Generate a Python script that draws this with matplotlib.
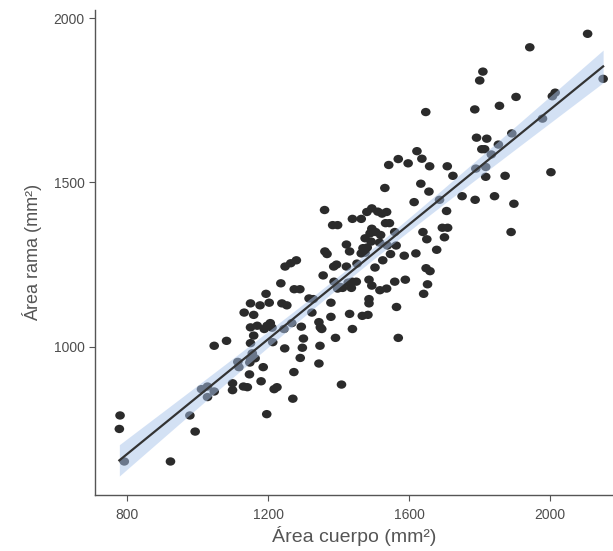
import numpy as np
import matplotlib
matplotlib.use("Agg")
import matplotlib.pyplot as plt
from matplotlib.path import Path

area_cuerpo = [780, 778, 792, 923, 978, 993, 1011, 1028, 1028, 1047, 1047, 1082, 1099, 1099,
               1114, 1117, 1130, 1141, 1147, 1148, 1150, 1163, 1150, 1150, 1159, 1159, 1132,
               1150, 1177, 1194, 1203, 1189, 1206, 1213, 1186, 1180, 1196, 1217, 1225, 1270,
               1273, 1247, 1245, 1267, 1294, 1300, 1297, 1291, 1239, 1253, 1236, 1248, 1264,
               1280, 1274, 1290, 1324, 1328, 1316, 1344, 1348, 1352, 1347, 1344, 1391, 1378,
               1378, 1408, 1356, 1360, 1383, 1397, 1361, 1367, 1386, 1394, 1387, 1397, 1411,
               1422, 1422, 1431, 1436, 1438, 1450, 1431, 1439, 1467, 1483, 1486, 1486, 1494,
               1486, 1503, 1439, 1464, 1480, 1494, 1511, 1536, 1494, 1505, 1519, 1492, 1516,
               1469, 1475, 1464, 1531, 1542, 1569, 1597, 1622, 1636, 1658, 1633, 1656, 1614,
               1533, 1544, 1559, 1563, 1547, 1525, 1586, 1619, 1639, 1650, 1648, 1659, 1652,
               1641, 1589, 1559, 1536, 1517, 1564, 1569, 1678, 1686, 1700, 1694, 1709, 1706,
               1708, 1724, 1750, 1647, 1787, 1789, 1817, 1817, 1806, 1814, 1791, 1820, 1833,
               1853, 1842, 1872, 1897, 1889, 1891, 1903, 1856, 1786, 1800, 1809, 1942, 1978,
               2006, 2014, 2002, 2106, 2150,
               1489, 1452, 1404, 1427, 1211, 1197, 1523, 1475, 1538, 1155, 1169, 1481]
area_rama = [791, 750, 651, 651, 791, 742, 871, 879, 847, 864, 1003, 1018, 889, 868,
             954, 938, 879, 877, 916, 952, 962, 965, 1011, 1059, 1034, 1097, 1104,
             1132, 1126, 1161, 1134, 1054, 1072, 1014, 938, 895, 795, 871, 877, 842,
             923, 995, 1054, 1072, 1061, 1025, 997, 966, 1132, 1126, 1193, 1244, 1254,
             1263, 1175, 1175, 1104, 1145, 1147, 1075, 1059, 1054, 1003, 949, 1027, 1091,
             1134, 885, 1217, 1416, 1370, 1370, 1290, 1282, 1244, 1250, 1198, 1177, 1179,
             1244, 1311, 1290, 1179, 1198, 1198, 1100, 1054, 1094, 1097, 1145, 1132, 1186,
             1204, 1241, 1389, 1389, 1410, 1421, 1411, 1410, 1359, 1349, 1340, 1320, 1317,
             1300, 1286, 1284, 1483, 1553, 1571, 1558, 1595, 1572, 1549, 1496, 1472, 1440,
             1376, 1376, 1349, 1308, 1282, 1263, 1277, 1284, 1349, 1327, 1239, 1230, 1190,
             1161, 1204, 1198, 1177, 1172, 1121, 1027, 1295, 1447, 1333, 1362, 1362, 1413,
             1549, 1520, 1458, 1714, 1447, 1542, 1547, 1517, 1601, 1601, 1636, 1633, 1585,
             1615, 1458, 1520, 1435, 1349, 1649, 1760, 1733, 1722, 1810, 1837, 1911, 1694,
             1762, 1773, 1531, 1952, 1815,
             1345, 1253, 1182, 1195, 1058, 1064, 1405, 1330, 1308, 980, 1064, 1302]

x_ticks = [800, 1200, 1600, 2000]
y_ticks = [1000, 1500, 2000]

plt.rcParams['font.family'] = ['Liberation Sans', 'DejaVu Sans']

x = np.array(area_cuerpo, dtype=float)
y = np.array(area_rama, dtype=float)

fig = plt.figure(figsize=(6.13, 5.51), dpi=100)
ax = fig.add_axes([0.155, 0.1016, 0.845, 0.88])

# slightly wide ellipse marker (reference is horizontally stretched)
circ = Path.unit_circle()
ell = Path(circ.vertices * np.array([1.15, 1.0]), circ.codes)

ax.scatter(x, y, s=48, marker=ell, color='#2b2b2b', edgecolors='none', zorder=2)

# linear fit with 95% confidence band
b, a = np.polyfit(x, y, 1)
xs = np.linspace(x.min(), x.max(), 200)
ys = a + b * xs
n = len(x)
resid = y - (a + b * x)
mse = np.sum(resid ** 2) / (n - 2)
sxx = np.sum((x - x.mean()) ** 2)
se = np.sqrt(mse * (1.0 / n + (xs - x.mean()) ** 2 / sxx))
t = 1.972
ax.fill_between(xs, ys - t * se, ys + t * se, color='#a9c4eb', alpha=0.5,
                linewidth=0, zorder=3)
ax.plot(xs, ys, color='#333333', lw=1.6, zorder=4)

ax.set_xlim(709, 2178)
ax.set_ylim(549, 2024)
ax.set_xticks(x_ticks)
ax.set_yticks(y_ticks)

for side in ['top', 'right']:
    ax.spines[side].set_visible(False)
for side in ['left', 'bottom']:
    ax.spines[side].set_color('#555555')
    ax.spines[side].set_linewidth(1.0)
ax.tick_params(axis='both', colors='#555555', labelcolor='#4d4d4d',
               labelsize=10, length=4, width=0.8)
ax.tick_params(axis='x', pad=5)

ax.set_xlabel('Área cuerpo (mm²)', fontsize=14, color='#555555', labelpad=3)
ax.set_ylabel('Área rama (mm²)', fontsize=13, color='#555555', labelpad=8)

fig.savefig('out.png', dpi=100)
